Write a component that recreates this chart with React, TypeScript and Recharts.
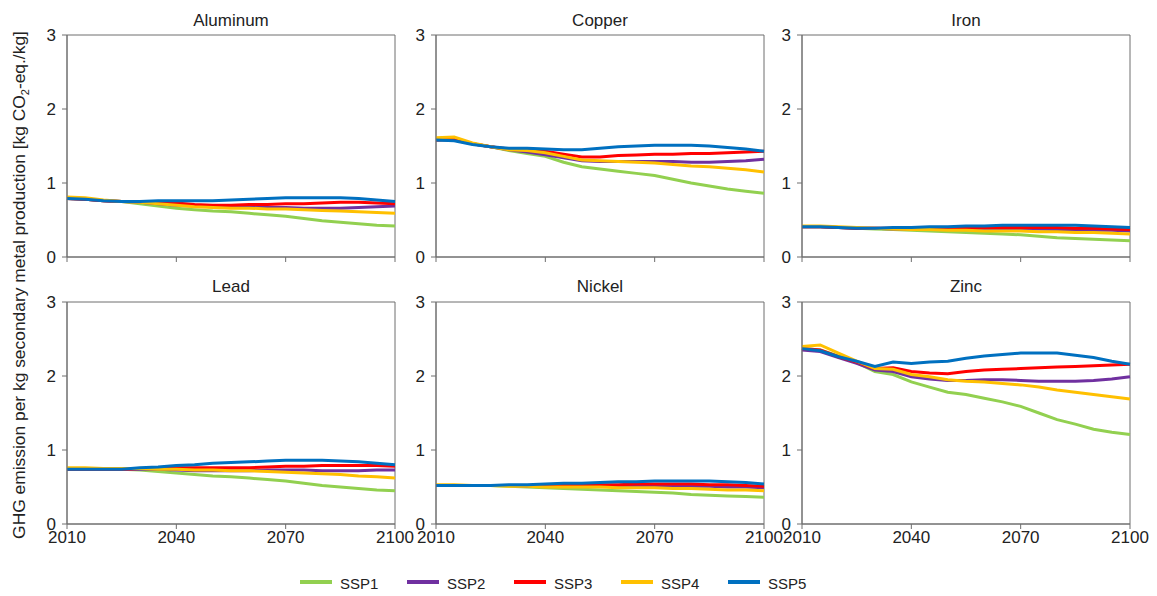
import React from 'react'
import { LineChart, Line, XAxis, YAxis, ReferenceArea } from 'recharts'

const YEARS = [2010, 2015, 2020, 2025, 2030, 2035, 2040, 2045, 2050, 2055, 2060, 2065, 2070, 2075, 2080, 2085, 2090, 2095, 2100]
const SERIES = ['SSP1', 'SSP2', 'SSP3', 'SSP4', 'SSP5']
const COLORS = ['#92D050', '#7030A0', '#FF0000', '#FFC000', '#0070C0']
const X_TICKS = [2010, 2040, 2070, 2100]
const Y_TICKS = [0, 1, 2, 3]

const aluminum: Record<string, number[]> = {
  SSP1: [0.79, 0.78, 0.76, 0.75, 0.72, 0.69, 0.66, 0.64, 0.62, 0.61, 0.59, 0.57, 0.55, 0.52, 0.49, 0.47, 0.45, 0.43, 0.42],
  SSP2: [0.79, 0.78, 0.76, 0.75, 0.74, 0.72, 0.70, 0.69, 0.68, 0.67, 0.67, 0.67, 0.67, 0.66, 0.66, 0.66, 0.67, 0.68, 0.69],
  SSP3: [0.79, 0.78, 0.76, 0.75, 0.75, 0.74, 0.73, 0.71, 0.70, 0.70, 0.71, 0.71, 0.72, 0.72, 0.73, 0.74, 0.74, 0.73, 0.72],
  SSP4: [0.81, 0.80, 0.77, 0.75, 0.74, 0.72, 0.70, 0.68, 0.67, 0.66, 0.66, 0.65, 0.65, 0.64, 0.63, 0.62, 0.61, 0.60, 0.59],
  SSP5: [0.79, 0.78, 0.76, 0.75, 0.75, 0.76, 0.76, 0.76, 0.76, 0.77, 0.78, 0.79, 0.80, 0.80, 0.80, 0.80, 0.79, 0.77, 0.75]
}

const copper: Record<string, number[]> = {
  SSP1: [1.58, 1.58, 1.53, 1.49, 1.44, 1.40, 1.36, 1.28, 1.22, 1.19, 1.16, 1.13, 1.10, 1.05, 1.00, 0.96, 0.92, 0.89, 0.86],
  SSP2: [1.58, 1.58, 1.53, 1.49, 1.45, 1.42, 1.38, 1.34, 1.30, 1.29, 1.29, 1.29, 1.29, 1.29, 1.28, 1.28, 1.29, 1.30, 1.32],
  SSP3: [1.58, 1.60, 1.53, 1.49, 1.46, 1.45, 1.43, 1.39, 1.35, 1.35, 1.37, 1.38, 1.39, 1.39, 1.40, 1.40, 1.41, 1.42, 1.43],
  SSP4: [1.61, 1.62, 1.54, 1.49, 1.45, 1.44, 1.41, 1.36, 1.31, 1.30, 1.29, 1.28, 1.27, 1.25, 1.23, 1.22, 1.20, 1.18, 1.15],
  SSP5: [1.58, 1.57, 1.52, 1.49, 1.47, 1.47, 1.46, 1.45, 1.45, 1.47, 1.49, 1.50, 1.51, 1.51, 1.51, 1.50, 1.48, 1.46, 1.43]
}

const iron: Record<string, number[]> = {
  SSP1: [0.41, 0.41, 0.40, 0.39, 0.38, 0.37, 0.36, 0.35, 0.34, 0.33, 0.32, 0.31, 0.30, 0.28, 0.26, 0.25, 0.24, 0.23, 0.22],
  SSP2: [0.41, 0.41, 0.40, 0.39, 0.39, 0.38, 0.38, 0.38, 0.38, 0.38, 0.38, 0.38, 0.38, 0.38, 0.37, 0.37, 0.36, 0.36, 0.35],
  SSP3: [0.41, 0.41, 0.40, 0.39, 0.39, 0.39, 0.39, 0.39, 0.39, 0.39, 0.40, 0.40, 0.40, 0.40, 0.40, 0.39, 0.39, 0.38, 0.37],
  SSP4: [0.42, 0.42, 0.41, 0.40, 0.39, 0.38, 0.37, 0.37, 0.36, 0.36, 0.35, 0.35, 0.35, 0.34, 0.34, 0.33, 0.33, 0.32, 0.31],
  SSP5: [0.41, 0.41, 0.40, 0.39, 0.39, 0.40, 0.40, 0.41, 0.41, 0.42, 0.42, 0.43, 0.43, 0.43, 0.43, 0.43, 0.42, 0.41, 0.40]
}

const lead: Record<string, number[]> = {
  SSP1: [0.74, 0.74, 0.74, 0.74, 0.73, 0.71, 0.69, 0.67, 0.65, 0.64, 0.62, 0.60, 0.58, 0.55, 0.52, 0.50, 0.48, 0.46, 0.45],
  SSP2: [0.74, 0.74, 0.74, 0.74, 0.74, 0.74, 0.73, 0.72, 0.72, 0.72, 0.72, 0.73, 0.73, 0.73, 0.72, 0.72, 0.72, 0.73, 0.73],
  SSP3: [0.74, 0.74, 0.74, 0.74, 0.75, 0.75, 0.76, 0.76, 0.76, 0.76, 0.76, 0.77, 0.78, 0.78, 0.79, 0.79, 0.79, 0.79, 0.78],
  SSP4: [0.76, 0.76, 0.75, 0.75, 0.75, 0.74, 0.74, 0.73, 0.73, 0.72, 0.72, 0.71, 0.70, 0.69, 0.68, 0.67, 0.65, 0.64, 0.62],
  SSP5: [0.74, 0.74, 0.74, 0.74, 0.76, 0.77, 0.79, 0.80, 0.82, 0.83, 0.84, 0.85, 0.86, 0.86, 0.86, 0.85, 0.84, 0.82, 0.80]
}

const nickel: Record<string, number[]> = {
  SSP1: [0.52, 0.52, 0.52, 0.52, 0.51, 0.50, 0.49, 0.48, 0.47, 0.46, 0.45, 0.44, 0.43, 0.42, 0.40, 0.39, 0.38, 0.37, 0.36],
  SSP2: [0.52, 0.52, 0.52, 0.52, 0.52, 0.51, 0.51, 0.51, 0.51, 0.51, 0.51, 0.52, 0.52, 0.52, 0.51, 0.51, 0.50, 0.50, 0.49],
  SSP3: [0.52, 0.52, 0.52, 0.52, 0.52, 0.52, 0.52, 0.52, 0.53, 0.53, 0.53, 0.54, 0.54, 0.54, 0.54, 0.53, 0.53, 0.52, 0.51],
  SSP4: [0.53, 0.53, 0.52, 0.52, 0.51, 0.51, 0.50, 0.50, 0.50, 0.50, 0.49, 0.49, 0.49, 0.48, 0.48, 0.47, 0.46, 0.46, 0.45],
  SSP5: [0.52, 0.52, 0.52, 0.52, 0.53, 0.53, 0.54, 0.55, 0.55, 0.56, 0.57, 0.57, 0.58, 0.58, 0.58, 0.58, 0.57, 0.56, 0.54]
}

const zinc: Record<string, number[]> = {
  SSP1: [2.37, 2.35, 2.27, 2.18, 2.06, 2.02, 1.92, 1.85, 1.78, 1.75, 1.70, 1.65, 1.59, 1.50, 1.41, 1.35, 1.28, 1.24, 1.21],
  SSP2: [2.35, 2.33, 2.25, 2.17, 2.08, 2.06, 1.99, 1.96, 1.94, 1.94, 1.95, 1.95, 1.94, 1.93, 1.93, 1.93, 1.94, 1.96, 1.99],
  SSP3: [2.37, 2.35, 2.26, 2.19, 2.10, 2.11, 2.06, 2.04, 2.03, 2.06, 2.08, 2.09, 2.10, 2.11, 2.12, 2.13, 2.14, 2.15, 2.16],
  SSP4: [2.40, 2.42, 2.31, 2.20, 2.10, 2.09, 2.02, 1.99, 1.95, 1.93, 1.92, 1.90, 1.88, 1.85, 1.81, 1.78, 1.75, 1.72, 1.69],
  SSP5: [2.37, 2.34, 2.26, 2.20, 2.13, 2.19, 2.17, 2.19, 2.20, 2.24, 2.27, 2.29, 2.31, 2.31, 2.31, 2.28, 2.25, 2.20, 2.16]
}

const PANELS = [
  { title: 'Aluminum', values: aluminum, col: 0, row: 0 },
  { title: 'Copper', values: copper, col: 1, row: 0 },
  { title: 'Iron', values: iron, col: 2, row: 0 },
  { title: 'Lead', values: lead, col: 0, row: 1 },
  { title: 'Nickel', values: nickel, col: 1, row: 1 },
  { title: 'Zinc', values: zinc, col: 2, row: 1 }
]

// plot-area geometry in page pixels
const COL_X = [67, 436, 802]
const ROW_Y = [35, 302]
const PLOT_W = 328
const PLOT_H = 222
const AXIS_W = 50
const PAD_TOP = 10
const PAD_RIGHT = 26
const X_AXIS_H = 30

const FONT = 'Liberation Sans, Arial, sans-serif'
const AXIS_COLOR = '#6e6e6e'

const Panel = ({ values, left, top, showX }: { values: Record<string, number[]>, left: number, top: number, showX: boolean }) => {
  const data = YEARS.map((year, i) => {
    const row: Record<string, number> = { year }
    SERIES.forEach(s => { row[s] = values[s][i] })
    return row
  })

  return (
    <div style={{ position: 'absolute', left: left - AXIS_W, top: top - PAD_TOP }}>
      <LineChart
        width={AXIS_W + PLOT_W + PAD_RIGHT}
        height={PAD_TOP + PLOT_H + X_AXIS_H}
        data={data}
        margin={{ top: PAD_TOP, right: PAD_RIGHT, bottom: 0, left: 0 }}
        style={{ overflow: 'visible' }}
      >
        <XAxis
          dataKey="year"
          type="number"
          domain={[2010, 2100]}
          ticks={X_TICKS}
          height={X_AXIS_H}
          tickSize={5}
          tickMargin={2}
          stroke={AXIS_COLOR}
          tick={{ fill: '#222', fontSize: 17, fontFamily: FONT }}
          tickFormatter={(v) => (showX ? String(v) : '')}
          interval={0}
        />
        <YAxis
          type="number"
          domain={[0, 3]}
          ticks={Y_TICKS}
          width={AXIS_W}
          tickSize={5}
          tickMargin={6}
          stroke={AXIS_COLOR}
          tick={{ fill: '#222', fontSize: 17, fontFamily: FONT }}
          interval={0}
        />
        <ReferenceArea x1={2010} x2={2100} y1={0} y2={3} fill="none" stroke={AXIS_COLOR} strokeWidth={1} />
        {SERIES.map((s, i) => (
          <Line
            key={s}
            dataKey={s}
            type="linear"
            stroke={COLORS[i]}
            strokeWidth={3}
            dot={false}
            isAnimationActive={false}
          />
        ))}
      </LineChart>
    </div>
  )
}

const App = () => {
  const legendX = [300, 407, 514, 621, 728]
  return (
    <div style={{ position: 'absolute', left: 0, top: 0, width: 1157, height: 596, background: '#fff' }}>
      {PANELS.map(p => (
        <Panel
          key={p.title}
          values={p.values}
          left={COL_X[p.col]}
          top={ROW_Y[p.row]}
          showX={p.row === 1}
        />
      ))}
      <svg width={1157} height={596} style={{ position: 'absolute', left: 0, top: 0, pointerEvents: 'none' }}>
        {PANELS.map(p => (
          <text
            key={p.title}
            x={COL_X[p.col] + PLOT_W / 2}
            y={p.row === 0 ? 26 : 292}
            textAnchor="middle"
            fontSize={17}
            fontFamily={FONT}
            fill="#222"
          >
            {p.title}
          </text>
        ))}
        <text
          transform="translate(25, 285) rotate(-90)"
          textAnchor="middle"
          fontSize={17.4}
          fontFamily={FONT}
          fill="#222"
        >
          GHG emission per kg secondary metal production [kg CO
          <tspan fontSize={11} dy={4}>2</tspan>
          <tspan dy={-4}>-eq./kg]</tspan>
        </text>
        {SERIES.map((s, i) => (
          <g key={s}>
            <line x1={legendX[i]} x2={legendX[i] + 32} y1={582} y2={582} stroke={COLORS[i]} strokeWidth={4} />
            <text x={legendX[i] + 40} y={589} fontSize={15} fontFamily={FONT} fill="#222">{s}</text>
          </g>
        ))}
      </svg>
    </div>
  )
}

export default App
